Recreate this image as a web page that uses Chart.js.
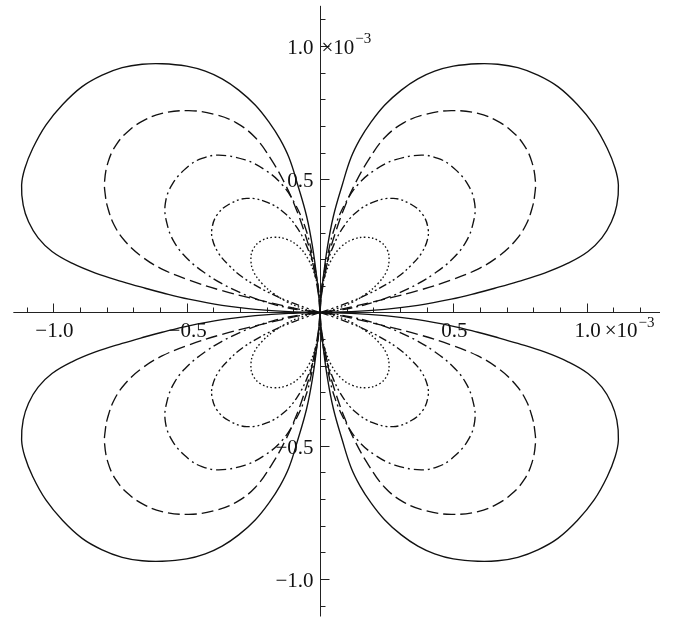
<!DOCTYPE html>
<html>
<head>
<meta charset="utf-8">
<script src="https://cdn.jsdelivr.net/npm/chart.js@4"></script>
<style>
  html, body { margin: 0; padding: 0; background: #fff; }
  #plot { display: block; }
</style>
</head>
<body>
<canvas id="plot" width="686" height="619"></canvas>
<script>
// lobe outlines in the first quadrant (units of 1e-3)
// order: from origin up along the y axis, over the top, round the right side, back along the x axis
const solidLobe = [
  [0, 0], [0.004, 0.06], [0.012, 0.13], [0.027, 0.24], [0.05, 0.36], [0.084, 0.48],
  [0.116, 0.58], [0.15, 0.65], [0.19, 0.712], [0.243, 0.778], [0.305, 0.834],
  [0.367, 0.876], [0.43, 0.905], [0.5, 0.924], [0.592, 0.933], [0.667, 0.931],
  [0.742, 0.918], [0.817, 0.89], [0.892, 0.847], [0.965, 0.78], [1.028, 0.703],
  [1.077, 0.616], [1.107, 0.54], [1.119, 0.478], [1.113, 0.403], [1.093, 0.34],
  [1.057, 0.28], [1.005, 0.229], [0.93, 0.185], [0.842, 0.148], [0.742, 0.116],
  [0.655, 0.091], [0.592, 0.074], [0.492, 0.05], [0.367, 0.027], [0.243, 0.012],
  [0.117, 0.003], [0, 0]
];
const dashedLobe = [
  [0, 0], [0.005, 0.06], [0.015, 0.122], [0.035, 0.222], [0.061, 0.309], [0.093, 0.397],
  [0.132, 0.484], [0.182, 0.572], [0.242, 0.655], [0.315, 0.712], [0.395, 0.743],
  [0.4925, 0.757], [0.5925, 0.747], [0.657, 0.722], [0.717, 0.682], [0.765, 0.628],
  [0.795, 0.563], [0.808, 0.49], [0.805, 0.44], [0.797, 0.397], [0.772, 0.328],
  [0.73, 0.266], [0.6675, 0.209], [0.5925, 0.163], [0.4925, 0.122], [0.3675, 0.082],
  [0.2425, 0.05], [0.1175, 0.021], [0.05, 0.007], [0, 0]
];
const dashDotLobe = [
  [0, 0], [0.0025, 0.047], [0.011, 0.122], [0.03, 0.222], [0.055, 0.318], [0.0925, 0.405],
  [0.1425, 0.48], [0.205, 0.534], [0.28, 0.572], [0.38, 0.59], [0.4425, 0.578],
  [0.4925, 0.549], [0.552, 0.484], [0.58, 0.409], [0.574, 0.334], [0.544, 0.259],
  [0.4925, 0.197], [0.43, 0.147], [0.3675, 0.108], [0.305, 0.077], [0.2425, 0.052],
  [0.18, 0.032], [0.1175, 0.017], [0.055, 0.006], [0, 0]
];
const dashDotDotLobe = [
  [0, 0], [0.002, 0.04], [0.007, 0.097], [0.024, 0.172], [0.049, 0.247], [0.086, 0.318],
  [0.132, 0.372], [0.195, 0.412], [0.274, 0.428], [0.3425, 0.405], [0.386, 0.366],
  [0.405, 0.316], [0.4025, 0.272], [0.38, 0.222], [0.3425, 0.178], [0.2925, 0.134],
  [0.23, 0.095], [0.1675, 0.063], [0.105, 0.037], [0.049, 0.016], [0, 0]
];
const dottedLobe = [
  [0, 0], [0.001, 0.03], [0.005, 0.075], [0.0175, 0.134], [0.0425, 0.197], [0.08, 0.247],
  [0.124, 0.274], [0.174, 0.282], [0.222, 0.268], [0.2515, 0.236], [0.259, 0.197],
  [0.249, 0.153], [0.2175, 0.109], [0.174, 0.071], [0.124, 0.04], [0.0675, 0.016],
  [0.024, 0.004], [0, 0]
];

// axis ticks and labels
const xMajorTicks = [-1.0, -0.5, 0.5, 1.0];
const xMajorLabels = ["\u22121.0", "\u22120.5", "0.5", "1.0"];
const yMajorTicks = [1.0, 0.5, -0.5, -1.0];
const yMajorLabels = ["1.0", "0.5", "\u22120.5", "\u22121.0"];
const xMinorTicks = [-1.1, -0.9, -0.8, -0.7, -0.6, -0.4, -0.3, -0.2, -0.1,
  0.1, 0.2, 0.3, 0.4, 0.6, 0.7, 0.8, 0.9, 1.1, 1.2];
const yMinorTicks = [1.1, 0.9, 0.8, 0.7, 0.6, 0.4, 0.3, 0.2, 0.1,
  -0.1, -0.2, -0.3, -0.4, -0.6, -0.7, -0.8, -0.9, -1.1];
const exponentText = "\u22123";

const curveStyles = [
  { lobe: solidLobe, dash: [] },
  { lobe: dashedLobe, dash: [12, 5] },
  { lobe: dashDotLobe, dash: [10, 4, 2, 4] },
  { lobe: dashDotDotLobe, dash: [8, 3, 2, 3, 2, 3] },
  { lobe: dottedLobe, dash: [1.6, 2.4] }
];

// four quadrants: mirror the first-quadrant outline
const quadrants = [[1, 1], [-1, 1], [-1, -1], [1, -1]];

const datasets = [];
curveStyles.forEach((c) => {
  quadrants.forEach(([sx, sy]) => {
    datasets.push({
      data: c.lobe.map((p) => ({ x: sx * p[0], y: sy * p[1] })),
      showLine: true,
      fill: false,
      borderColor: "#111",
      borderWidth: 1.35,
      borderDash: c.dash,
      pointRadius: 0,
      tension: 0.4,
    });
  });
});

const FONT = '21px "Liberation Serif", "Times New Roman", serif';
const SUP_FONT = '15px "Liberation Serif", "Times New Roman", serif';

// axes through the origin, ticks on the positive side, Mathematica style
const axesPlugin = {
  id: "originAxes",
  beforeDatasetsDraw(chart) {
    const ctx = chart.ctx;
    const xs = chart.scales.x;
    const ys = chart.scales.y;
    const x0 = Math.round(xs.getPixelForValue(0)) + 0.5;
    const y0 = Math.round(ys.getPixelForValue(0)) + 0.5;

    ctx.save();
    ctx.strokeStyle = "#222";
    ctx.lineWidth = 1;
    ctx.setLineDash([]);

    // axis lines
    ctx.beginPath();
    ctx.moveTo(xs.getPixelForValue(-1.15), y0);
    ctx.lineTo(xs.getPixelForValue(1.275), y0);
    ctx.moveTo(x0, ys.getPixelForValue(1.15));
    ctx.lineTo(x0, ys.getPixelForValue(-1.14));
    ctx.stroke();

    // tick marks
    ctx.beginPath();
    xMinorTicks.forEach((v) => {
      const px = Math.round(xs.getPixelForValue(v)) + 0.5;
      ctx.moveTo(px, y0);
      ctx.lineTo(px, y0 - 5);
    });
    xMajorTicks.forEach((v) => {
      const px = Math.round(xs.getPixelForValue(v)) + 0.5;
      ctx.moveTo(px, y0);
      ctx.lineTo(px, y0 - 9);
    });
    yMinorTicks.forEach((v) => {
      const py = Math.round(ys.getPixelForValue(v)) + 0.5;
      ctx.moveTo(x0, py);
      ctx.lineTo(x0 + 5, py);
    });
    yMajorTicks.forEach((v) => {
      const py = Math.round(ys.getPixelForValue(v)) + 0.5;
      ctx.moveTo(x0, py);
      ctx.lineTo(x0 + 9, py);
    });
    ctx.stroke();

    // labels
    ctx.fillStyle = "#111";
    ctx.font = FONT;
    ctx.textBaseline = "alphabetic";

    ctx.textAlign = "center";
    xMajorTicks.forEach((v, i) => {
      ctx.fillText(xMajorLabels[i], xs.getPixelForValue(v) + 1, y0 + 24);
    });

    ctx.textAlign = "right";
    yMajorTicks.forEach((v, i) => {
      ctx.fillText(yMajorLabels[i], x0 - 7, ys.getPixelForValue(v) + 8);
    });

    // x10^-3 multipliers
    const drawExp = (left, base, raise) => {
      ctx.textAlign = "left";
      ctx.font = FONT;
      ctx.fillText("\u00d710", left, base);
      const w = ctx.measureText("\u00d710").width;
      ctx.font = SUP_FONT;
      ctx.fillText(exponentText, left + w + 1, base - raise);
    };
    drawExp(xs.getPixelForValue(1.0) + 18, y0 + 24, 10);
    drawExp(x0 + 1, ys.getPixelForValue(1.0) + 8, 11);

    ctx.restore();
  },
};

new Chart(document.getElementById("plot"), {
  type: "scatter",
  data: { datasets: datasets },
  options: {
    responsive: false,
    animation: false,
    layout: { padding: 0 },
    plugins: {
      legend: { display: false },
      tooltip: { enabled: false },
    },
    scales: {
      x: { type: "linear", min: -1.2, max: 1.3725, display: false },
      y: { type: "linear", min: -1.1494, max: 1.1719, display: false },
    },
  },
  plugins: [axesPlugin],
});
</script>
</body>
</html>
